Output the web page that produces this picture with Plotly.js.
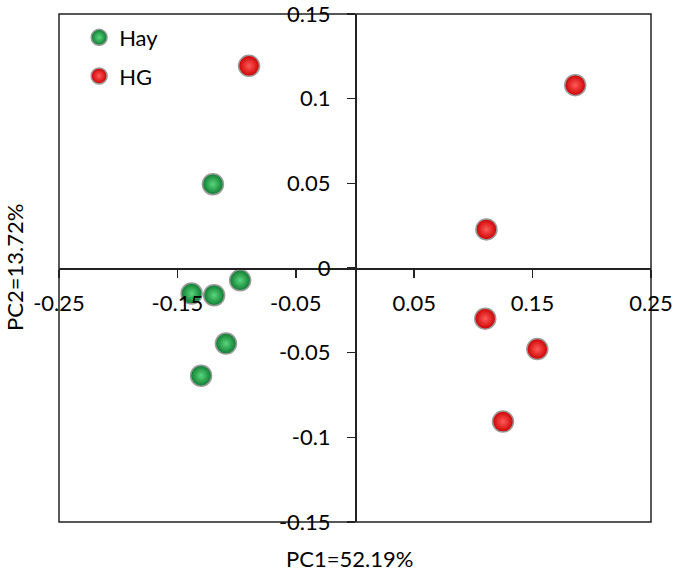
<!DOCTYPE html>
<html>
<head>
<meta charset="utf-8">
<script src="https://cdn.plot.ly/plotly-3.0.1.min.js"></script>
<style>
  html, body { margin: 0; padding: 0; background: #fff; }
  #pca { width: 675px; height: 571px; }
</style>
</head>
<body>
<div id="pca"></div>
<script>
// PCA scores
const hayPC1 = [-0.120, -0.138, -0.119, -0.097, -0.109, -0.130];
const hayPC2 = [0.0495, -0.0151, -0.0161, -0.0073, -0.0446, -0.0636];

const hgPC1 = [-0.0895, 0.186, 0.111, 0.110, 0.154, 0.125];
const hgPC2 = [0.1194, 0.108, 0.0228, -0.0299, -0.0479, -0.0907];

const xTickVals = [-0.25, -0.15, -0.05, 0.05, 0.15, 0.25];
const xTickText = ['-0.25', '-0.15', '-0.05', '0.05', '0.15', '0.25'];
const yTickVals = [-0.15, -0.1, -0.05, 0, 0.05, 0.1, 0.15];
const yTickText = ['-0.15', '-0.1', '-0.05', '0', '0.05', '0.1', '0.15'];

const FONT = 'Lato, "Open Sans", sans-serif';
const INK = '#222222';
const TXT = '#000000';

const ball = (edge, shine) => ({
    color: edge,
    size: 21,
    symbol: 'circle',
    gradient: { type: 'radial', color: shine },
    line: { color: '#9a9a9a', width: 1.5 },
});

const data = [
    {
        name: 'Hay',
        x: hayPC1,
        y: hayPC2,
        type: 'scatter',
        mode: 'markers',
        legendgroup: 'hay',
        marker: ball('#0c7a30', '#5ad67b'),
    },
    {
        name: 'HG',
        x: hgPC1,
        y: hgPC2,
        type: 'scatter',
        mode: 'markers',
        legendgroup: 'hg',
        marker: ball('#cc0000', '#ff5a5a'),
    },
];

const axisCommon = {
    showgrid: false,
    zeroline: false,
    showline: true,
    linecolor: INK,
    linewidth: 1.5,
    ticks: 'outside',
    ticklen: 8,
    tickwidth: 1.5,
    tickcolor: INK,
    tickmode: 'array',
    anchor: 'free',
    position: 0.5,
    ticklabeloverflow: 'allow',
    tickfont: { family: FONT, size: 22, color: TXT },
    fixedrange: true,
};

const layout = {
    width: 675,
    height: 571,
    margin: { l: 59, r: 24, t: 14, b: 49 },
    paper_bgcolor: '#fff',
    plot_bgcolor: '#fff',
    font: { family: FONT, size: 22, color: TXT },
    showlegend: true,
    legend: {
        x: 0.034,
        y: 0.995,
        xanchor: 'left',
        yanchor: 'top',
        bgcolor: 'rgba(0,0,0,0)',
        traceorder: 'grouped',
        tracegroupgap: 7,
        font: { family: FONT, size: 22, color: TXT },
    },
    xaxis: Object.assign({}, axisCommon, {
        range: [-0.25001, 0.25001],
        tickvals: xTickVals,
        ticktext: xTickText,
        ticklabelstandoff: 7,
    }),
    yaxis: Object.assign({}, axisCommon, {
        range: [-0.15001, 0.15001],
        tickvals: yTickVals,
        ticktext: yTickText,
        ticklabelstandoff: 12,
    }),
    shapes: [
        {
            type: 'rect',
            xref: 'paper', yref: 'paper',
            x0: 0, x1: 1, y0: 0, y1: 1,
            line: { color: INK, width: 1.5 },
            layer: 'below',
        },
    ],
    annotations: [
        {
            text: 'PC1=52.19%',
            xref: 'paper', yref: 'paper',
            x: 0.49, y: -0.071,
            xanchor: 'center', yanchor: 'middle',
            showarrow: false,
            font: { family: FONT, size: 22, color: TXT },
        },
        {
            text: 'PC2=13.72%',
            xref: 'paper', yref: 'paper',
            x: -0.076, y: 0.5,
            xanchor: 'center', yanchor: 'middle',
            textangle: -90,
            showarrow: false,
            font: { family: FONT, size: 22, color: TXT },
        },
    ],
};

Plotly.newPlot('pca', data, layout, { displayModeBar: false, staticPlot: true });
</script>
</body>
</html>
